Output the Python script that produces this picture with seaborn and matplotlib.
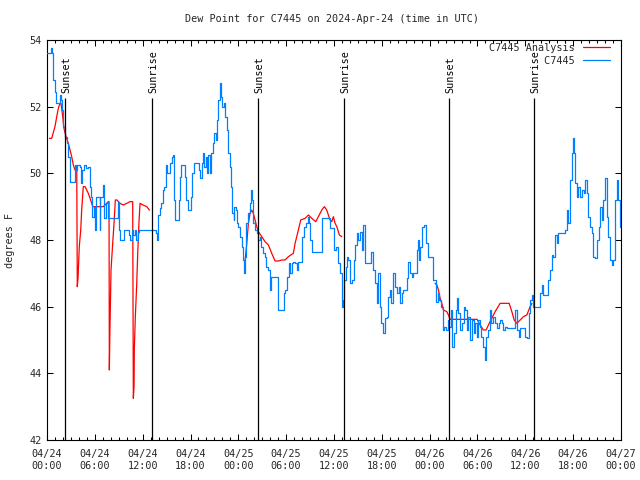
import numpy as np
import pandas as pd
import matplotlib
matplotlib.use("Agg")
import matplotlib.pyplot as plt
import seaborn as sns

# ---------------- data (hours since 2024-04-24 00:00 UTC, degrees F) -------------
obs_hours = [0.0, 0.45, 0.6, 0.7, 0.8, 1.0, 1.13, 1.5, 1.6, 1.75, 1.9, 1.97, 2.25, 2.5, 2.65, 2.85,
             2.9, 3.45, 3.5, 3.7, 3.8, 4.1, 4.3, 4.45, 4.6, 4.75, 4.9, 5.1, 5.35, 5.55, 5.7, 5.9,
             6.05, 6.2, 6.5, 6.6, 6.7, 7.0, 7.2, 7.35, 7.5, 7.7, 8.75, 8.85, 9.05, 9.15, 9.5, 9.6,
             10.0, 10.25, 10.4, 10.6, 10.8, 11.0, 11.2, 11.4, 11.6, 13.55, 13.65, 13.8, 13.95, 14.15,
             14.35, 14.55, 14.7, 14.9, 15.1, 15.3, 15.45, 15.65, 15.85, 15.95, 16.05, 16.35, 16.5, 16.65,
             16.85, 17.1, 17.25, 17.45, 17.65, 17.9, 18.05, 18.25, 18.45, 18.85, 19.05, 19.2, 19.4, 19.6,
             19.75, 19.95, 20.1, 20.25, 20.45, 20.6, 20.8, 21.0, 21.15, 21.3, 21.5, 21.65, 21.8, 22.0,
             22.15, 22.35, 22.55, 22.75, 22.95, 23.1, 23.25, 23.4, 23.5, 23.65, 23.8, 24.0, 24.2, 24.45,
             24.6, 24.75, 24.85, 25.0, 25.25, 25.45, 25.6, 25.75, 25.9, 26.1, 26.3, 26.5, 26.7, 26.9,
             27.1, 27.3, 27.5, 27.7, 27.95, 28.15, 28.4, 28.6, 28.8, 29.0, 29.6, 29.7, 29.9, 30.1,
             30.3, 30.5, 30.7, 30.9, 31.1, 31.3, 31.5, 31.75, 32.0, 32.2, 32.45, 32.7, 32.85, 33.0,
             33.2, 34.35, 34.5, 35.2, 35.5, 35.9, 36.05, 36.3, 36.5, 36.75, 36.95, 37.1, 37.3, 37.45,
             37.6, 37.8, 38.0, 38.2, 38.45, 38.65, 38.85, 39.05, 39.25, 39.45, 39.65, 39.85, 40.5, 40.7,
             40.95, 41.15, 41.35, 41.55, 41.75, 41.95, 42.2, 42.4, 42.6, 42.8, 43.0, 43.2, 43.45, 43.65,
             43.85, 44.1, 44.3, 44.5, 44.7, 44.9, 45.1, 45.3, 45.5, 45.75, 45.95, 46.15, 46.35, 46.55,
             46.7, 46.85, 47.1, 47.35, 47.55, 47.8, 48.25, 48.45, 48.75, 48.85, 49.0, 49.2, 49.4, 49.65,
             49.85, 50.05, 50.3, 50.45, 50.7, 50.85, 51.05, 51.25, 51.45, 51.6, 51.85, 52.05, 52.25, 52.45,
             52.65, 52.85, 53.05, 53.3, 53.5, 53.7, 53.9, 54.1, 54.3, 54.5, 54.7, 54.9, 55.05, 55.3,
             55.55, 55.75, 55.95, 56.2, 56.4, 56.65, 56.85, 57.05, 57.25, 57.5, 57.75, 58.1, 58.6, 58.75,
             58.95, 59.15, 59.35, 59.6, 59.9, 60.2, 60.4, 60.6, 60.8, 61.0, 61.85, 62.05, 62.2, 62.75,
             62.9, 63.1, 63.3, 63.5, 63.75, 63.95, 64.15, 64.95, 65.2, 65.4, 65.6, 65.8, 66.0, 66.1,
             66.25, 66.45, 66.6, 66.85, 67.05, 67.3, 67.5, 67.7, 67.9, 68.15, 68.35, 68.55, 68.8, 69.0,
             69.2, 69.4, 69.6, 69.8, 70.0, 70.2, 70.4, 70.6, 70.85, 71.05, 71.25, 71.45, 71.65, 71.85, 72.0]
obs_dewpt = [53.6, 53.75, 53.6, 53.3, 52.8, 52.45, 52.1, 52.1, 52.35, 52.2, 51.9, 51.4, 51.1, 50.9, 50.5, 50.3,
             49.75, 49.75, 50.25, 50.1, 50.25, 50.2, 49.7, 50.1, 50.25, 50.25, 50.15, 50.2, 49.6, 49.3, 48.7, 49.0,
             48.3, 49.3, 49.3, 48.3, 49.3, 49.65, 48.65, 49.1, 49.15, 48.65, 48.65, 49.15, 48.3, 48.0, 48.0, 48.3,
             48.3, 48.15, 48.0, 48.3, 48.15, 48.3, 48.0, 48.25, 48.3, 48.3, 48.2, 48.0, 48.75, 48.95,
             49.1, 49.5, 49.6, 50.25, 50.0, 50.0, 50.3, 50.5, 50.55, 49.2, 48.6, 48.6, 49.2, 49.9,
             50.25, 50.25, 49.9, 49.2, 48.9, 48.9, 49.3, 50.0, 50.3, 50.3, 50.1, 49.85, 50.3, 50.6,
             50.2, 50.5, 50.0, 50.55, 50.0, 50.6, 50.9, 51.2, 51.0, 51.6, 52.2, 52.7, 52.3, 52.0,
             52.1, 51.7, 51.3, 50.6, 50.2, 49.6, 48.8, 48.6, 49.0, 48.9, 48.5, 48.4, 48.1, 47.8,
             47.4, 47.0, 47.5, 48.5, 48.8, 49.1, 49.5, 49.2, 48.5, 48.3, 48.2, 48.0, 48.1, 47.8,
             47.6, 47.5, 47.2, 47.1, 46.5, 46.9, 46.9, 46.9, 46.9, 45.9, 45.9, 46.4, 46.5, 46.9,
             47.3, 47.0, 47.3, 47.35, 47.3, 47.1, 47.35, 47.35, 48.1, 48.4, 48.5, 48.7, 48.5, 48.0,
             47.65, 47.65, 48.65, 48.65, 48.35, 48.35, 47.7, 47.8, 47.3, 47.0, 46.0, 46.2, 46.8, 47.2,
             47.5, 47.4, 46.7, 46.8, 47.4, 47.85, 48.2, 48.0, 48.25, 47.7, 48.45, 47.3, 47.3, 47.65,
             47.1, 46.7, 46.1, 47.0, 46.0, 45.5, 45.2, 45.65, 45.7, 46.3, 46.5, 46.1, 47.0, 46.6,
             46.4, 46.6, 46.1, 46.4, 46.5, 46.5, 46.85, 47.35, 47.0, 46.9, 47.0, 47.0, 47.7, 48.0,
             47.4, 47.8, 48.4, 48.45, 47.9, 47.5, 47.5, 46.8, 46.6, 46.15, 46.4, 46.2, 46.0, 45.3,
             45.4, 45.3, 45.6, 45.4, 45.9, 44.8, 45.2, 45.9, 46.25, 45.8, 45.3, 45.5, 46.0, 45.9,
             45.3, 45.7, 45.0, 45.6, 45.2, 45.5, 45.1, 45.6, 45.4, 45.1, 44.8, 44.4, 45.1, 45.3,
             45.9, 45.5, 45.7, 45.5, 45.35, 45.5, 45.6, 45.5, 45.3, 45.4, 45.35, 45.35, 45.35, 45.9,
             45.3, 45.1, 45.35, 45.35, 45.1, 45.05, 45.8, 46.2, 46.35, 46.0, 46.4, 46.65, 46.35, 46.35,
             46.8, 47.1, 47.55, 47.5, 48.15, 47.9, 48.2, 48.3, 48.9, 48.5, 49.8, 50.6, 51.05, 50.6,
             49.7, 49.3, 49.6, 49.3, 49.5, 49.4, 49.8, 49.4, 48.7, 48.4, 48.2, 47.5, 47.45, 48.0,
             48.4, 49.0, 48.6, 49.2, 49.85, 48.7, 48.1, 47.4, 47.25, 47.4, 49.2, 49.8, 49.2, 48.4, 48.4]

# analysis series (three separate runs separated by data gaps)
ana_hours = [0.3, 0.59, 1.0, 1.22, 1.42, 1.63, 1.76, 1.97, 2.13, 2.38, 2.67, 2.89, 3.1, 3.3, 3.51, 3.73,
             3.8, 3.89, 4.05, 4.23, 4.35, 4.55, 4.77, 4.98, 5.18, 5.4, 5.61, 5.73, 6.24, 7.06, 7.28, 7.69,
             7.78, 7.82, 7.9, 8.03, 8.24, 8.41, 8.57, 8.78, 9.16, 9.57, 10.0, 10.41, 10.75, 10.83, 10.92,
             10.95, 11.08, 11.25, 11.38, 11.54, 11.67, 12.05, 12.51, 12.84, 12.86,
             24.84, 25.06, 25.26, 25.47, 25.68, 25.88, 26.1, 26.31, 26.51, 26.94, 27.35, 27.77, 28.19,
             28.61, 29.02, 29.45, 29.86, 30.28, 30.9, 31.12, 31.53, 31.83, 32.37, 32.79, 33.21, 33.71,
             34.04, 34.47, 34.79, 35.09, 35.29, 35.51, 35.72, 35.92, 36.14, 36.35, 36.68, 36.98,
             48.68, 48.9, 49.1, 49.31, 49.52, 49.72, 50.15, 50.35, 50.56, 51.8, 53.05, 53.95, 54.33,
             54.74, 55.08, 55.37, 55.79, 56.21, 56.84, 57.97, 58.31, 58.6, 58.93, 59.35, 59.76, 60.19,
             60.6, 60.82]
ana_dewpt = [51.05, 51.05, 51.4, 51.7, 51.95, 52.1, 52.1, 51.7, 51.35, 51.1, 50.9, 50.7, 50.5, 50.25, 50.1, 50.2,
             46.6, 46.85, 47.8, 48.3, 48.9, 49.6, 49.6, 49.5, 49.4, 49.25, 49.1, 49.0, 49.0, 49.0, 49.05, 49.15,
             49.15, 44.1, 45.4, 47.1, 47.9, 48.5, 49.2, 49.2, 49.1, 49.05, 49.1, 49.15, 49.15, 43.25, 43.6,
             44.7, 45.7, 46.65, 47.6, 48.55, 49.1, 49.05, 49.0, 48.9, 48.9,
             47.35, 47.9, 48.5, 48.8, 48.9, 48.8, 48.6, 48.4, 48.25, 48.1, 47.95, 47.85, 47.6,
             47.37, 47.37, 47.4, 47.4, 47.5, 47.6, 47.9, 48.3, 48.6, 48.65, 48.75, 48.65, 48.55,
             48.7, 48.9, 49.0, 48.9, 48.75, 48.6, 48.55, 48.7, 48.5, 48.4, 48.15, 48.1,
             46.7, 46.65, 46.5, 46.25, 46.1, 45.9, 45.85, 45.75, 45.62, 45.62, 45.62, 45.62, 45.45,
             45.3, 45.3, 45.45, 45.65, 45.85, 46.1, 46.1, 45.85, 45.6, 45.5, 45.6, 45.7, 45.75,
             46.0, 46.1]

sun_hours = [2.3, 13.2, 26.45, 37.3, 50.45, 61.1]
sun_labels = ["Sunset", "Sunrise", "Sunset", "Sunrise", "Sunset", "Sunrise"]

x_tick_hours = [0, 6, 12, 18, 24, 30, 36, 42, 48, 54, 60, 66, 72]
x_tick_labels = ["04/24\n00:00", "04/24\n06:00", "04/24\n12:00", "04/24\n18:00",
                 "04/25\n00:00", "04/25\n06:00", "04/25\n12:00", "04/25\n18:00",
                 "04/26\n00:00", "04/26\n06:00", "04/26\n12:00", "04/26\n18:00",
                 "04/27\n00:00"]
y_ticks = [42, 44, 46, 48, 50, 52, 54]

title = "Dew Point for C7445 on 2024-Apr-24 (time in UTC)"
ylabel = "degrees F"
series_obs = "C7445"
series_ana = "C7445 Analysis"

# ---------------- plotting -------------------------------------------------------
sns.set_style("ticks")
plt.rcParams["font.family"] = ["DejaVu Sans Mono", "DejaVu Sans"]
FS = 7.3

fig = plt.figure(figsize=(6.4, 4.8), dpi=100)
ax = fig.add_axes([47 / 640, 1 - 440 / 480, (621 - 47) / 640, 400 / 480])

obs = pd.DataFrame({"h": obs_hours, "v": obs_dewpt})
ana = pd.DataFrame({"h": ana_hours, "v": ana_dewpt})
ana["seg"] = np.concatenate([[0], np.cumsum(np.diff(ana["h"].to_numpy()) > 5)])

BLUE = "#0080ff"
RED = "#ff0000"

sns.lineplot(data=obs, x="h", y="v", ax=ax, color=BLUE, lw=0.9, estimator=None,
             sort=False, drawstyle="steps-post", label=series_obs, zorder=3)
first = True
for s, d in ana.groupby("seg"):
    sns.lineplot(data=d, x="h", y="v", ax=ax, color=RED, lw=0.9, estimator=None,
                 sort=False, label=series_ana if first else None, zorder=2)
    first = False

ax.vlines(sun_hours, 42, 52.25, color="black", lw=0.9, zorder=4)
for t, lab in zip(sun_hours, sun_labels):
    ax.text(t + 0.15, 52.42, lab, rotation=90, ha="center", va="bottom",
            fontsize=FS, color="black")

ax.set_xlim(0, 72)
ax.set_ylim(42, 54)
ax.set_xticks(x_tick_hours)
ax.set_xticklabels(x_tick_labels, fontsize=FS)
ax.set_xticks(np.arange(0, 73, 1), minor=True)
ax.set_yticks(y_ticks)
ax.set_yticklabels([str(v) for v in y_ticks], fontsize=FS)
ax.tick_params(which="both", direction="in", top=True, right=True, color="black", width=0.75)
ax.tick_params(which="major", length=4.5, pad=4)
ax.tick_params(which="minor", length=2.5)
ax.tick_params(axis="x", which="major", pad=6.5)
ax.set_xlabel("")
ax.set_ylabel(ylabel, fontsize=FS, labelpad=10)
for sp in ax.spines.values():
    sp.set_visible(True)
    sp.set_color("black")
    sp.set_linewidth(0.8)
fig.text(332 / 640, 1 - 19 / 480, title, ha="center", va="center", fontsize=FS)

handles, labels = ax.get_legend_handles_labels()
order = [labels.index(series_ana), labels.index(series_obs)]
maxlen = max(len(series_ana), len(series_obs))
leg = ax.legend([handles[i] for i in order],
                [labels[i].rjust(maxlen) for i in order],
                loc="upper right", bbox_to_anchor=(610 / 640, 1 - 43 / 480),
                bbox_transform=fig.transFigure, frameon=False, markerfirst=False,
                handlelength=2.7, handletextpad=0.8, labelspacing=0.25,
                borderpad=0, borderaxespad=0, fontsize=FS)

fig.savefig("out.png", dpi=100)
